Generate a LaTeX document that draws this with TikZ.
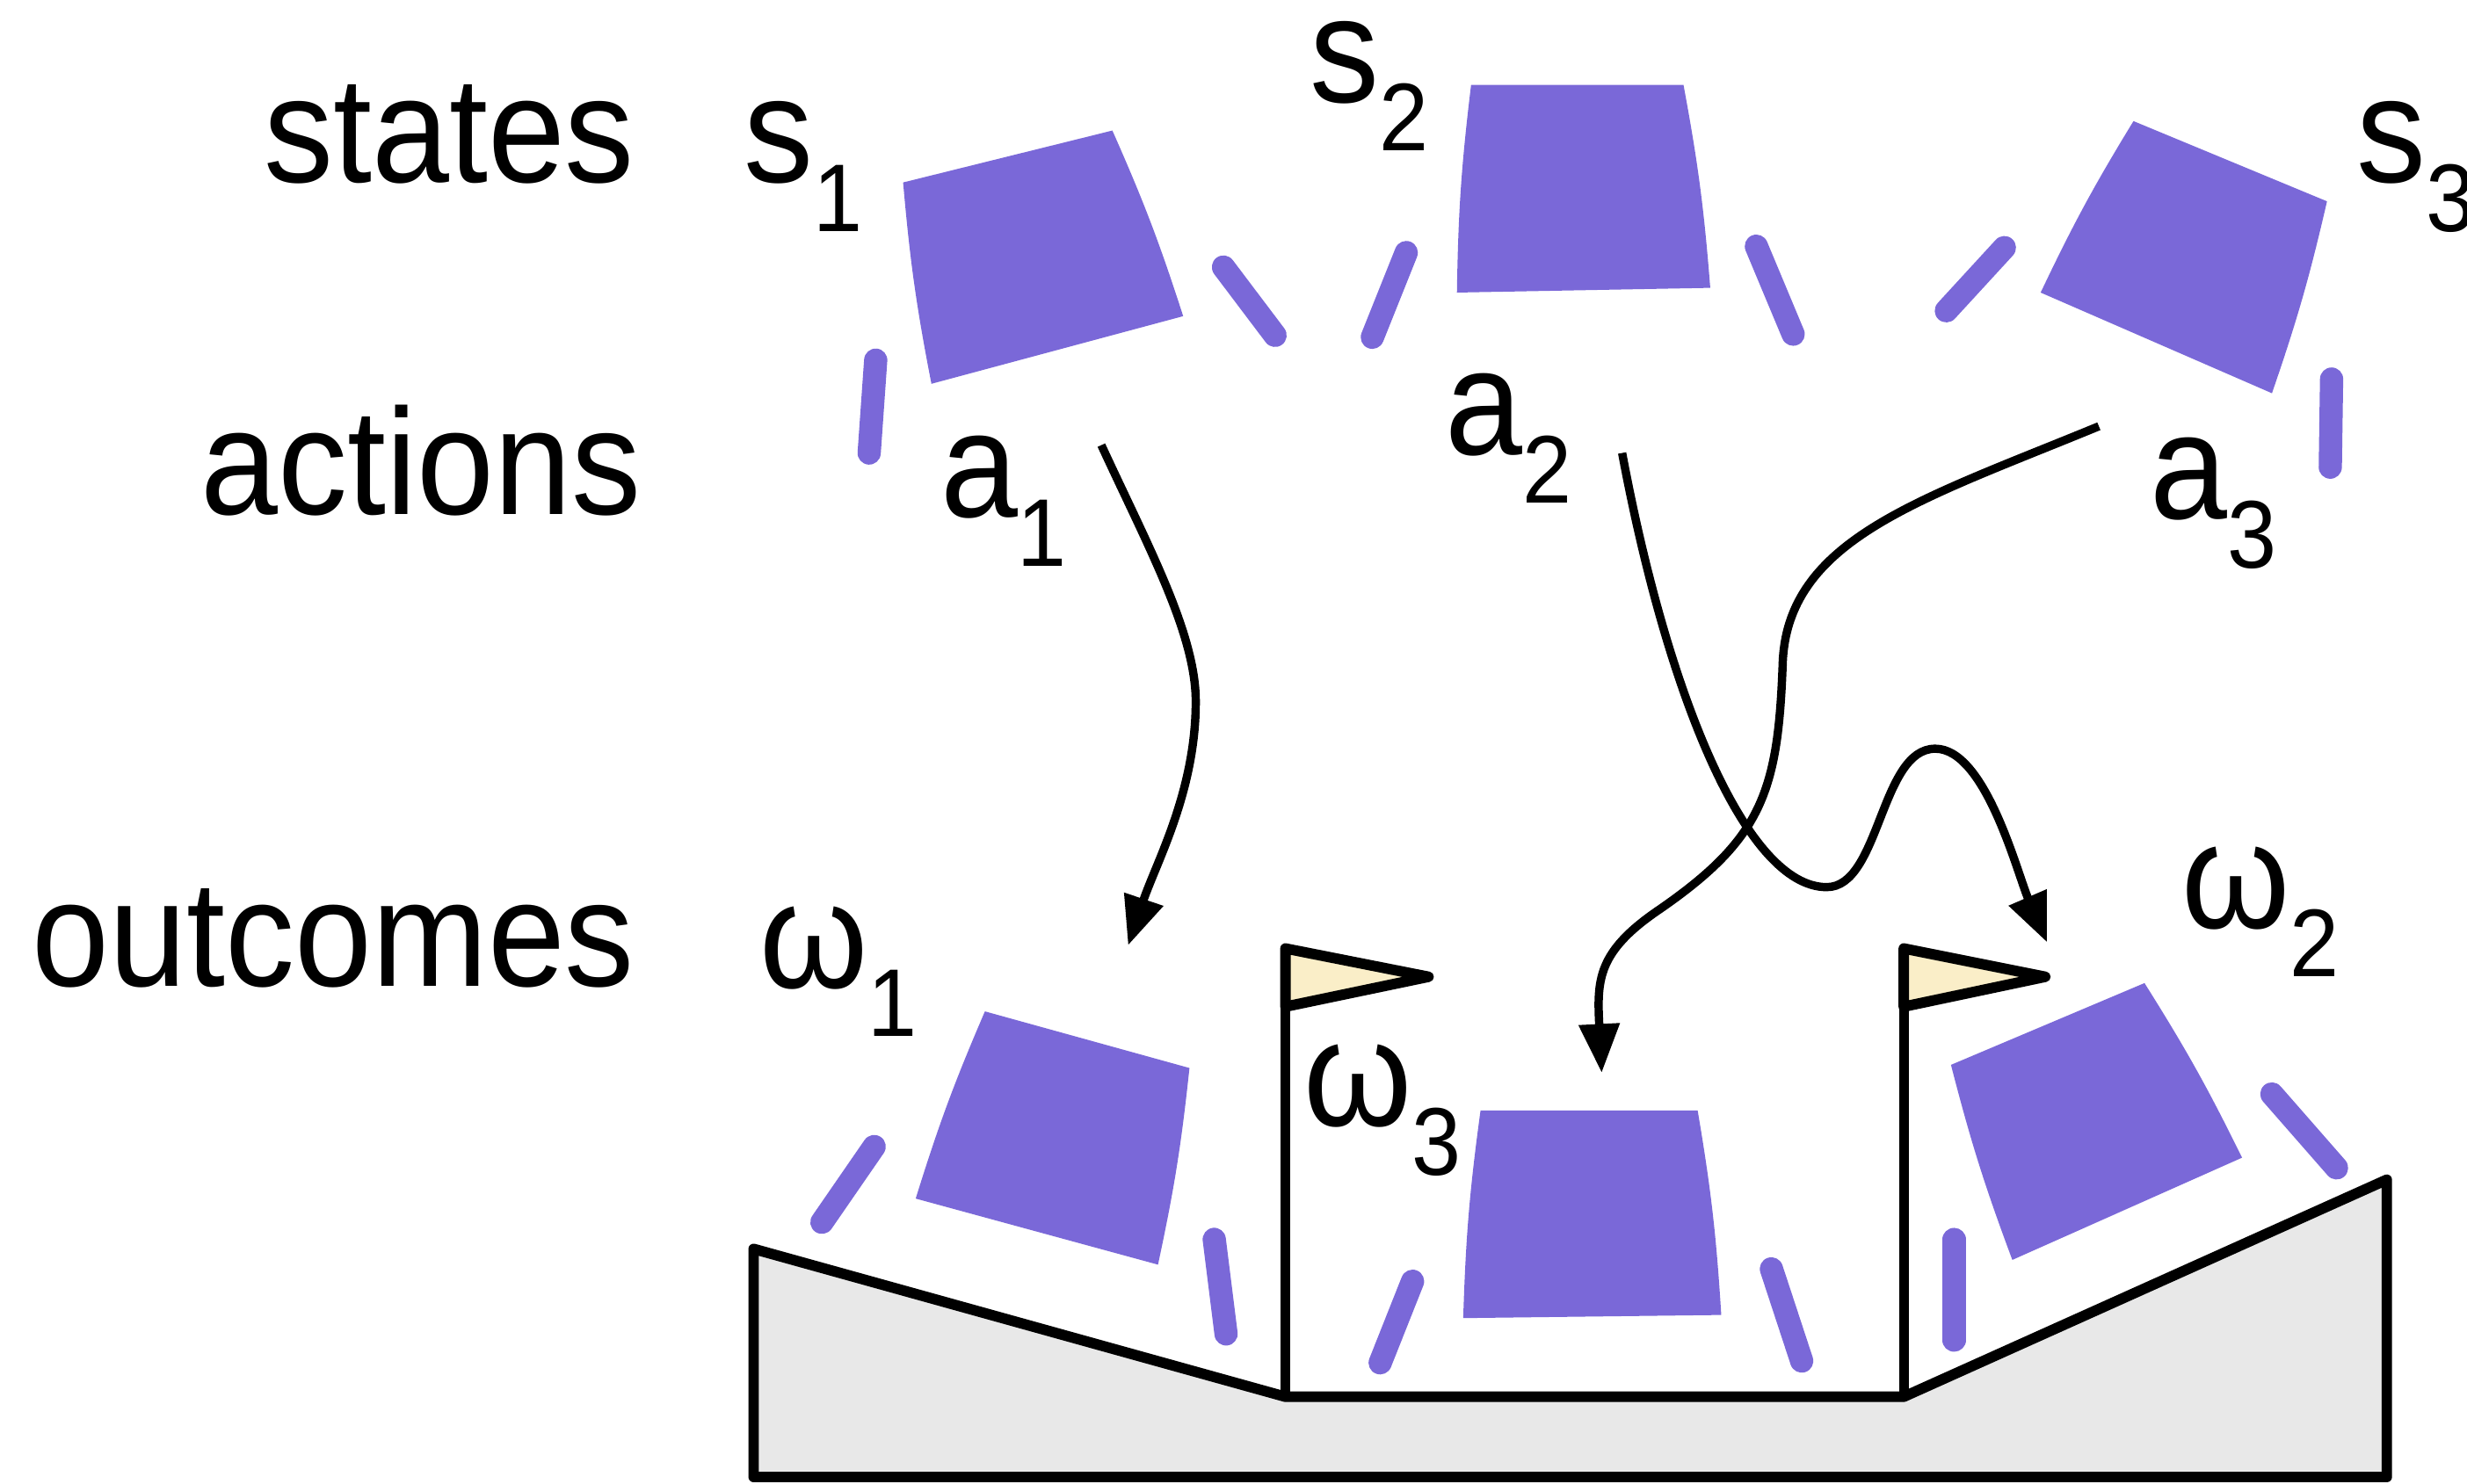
\documentclass[tikz,border=0pt]{standalone}
\usepackage{fontspec}
\setmainfont{Liberation Sans}[FakeStretch=0.92]
\usetikzlibrary{arrows.meta}
\definecolor{lander}{RGB}{122,104,216}
\definecolor{flagfill}{RGB}{250,238,200}
\definecolor{ground}{RGB}{232,232,232}
\newcommand{\lowsub}[1]{\raisebox{-0.31cm}{\fontsize{17.4}{18}\selectfont #1}}

\begin{document}
\begin{tikzpicture}[
  lbl/.style = {inner sep = 0pt, font = \fontsize{27.3}{30}\selectfont},
  body/.style = {fill = lander},
  leg/.style = {draw = lander, line width = 4.2pt, line cap = round, shorten < = 0.6mm, shorten > = 0.6mm},
  outline/.style = {line width = 1.9pt, line join = round},
  move/.style = {line width = 1.5pt, -{Triangle[length = 3.1mm, width = 2.5mm]}}
]
\useasboundingbox (0,0) rectangle (15.68,9.43);

% row names
\node[lbl, anchor = base east] (states) at (4.04,8.27) {states};
\node[lbl, anchor = base east] (actions) at (4.08,6.16) {actions};
\node[lbl, anchor = base east] (outcomes) at (4.04,3.16) {outcomes};

% labels
\node[lbl, anchor = base west] (s1) at (4.72,8.27) {s\lowsub{1}};
\node[lbl, anchor = base west, text height = 0.52cm] (s2) at (8.32,8.78) {s\lowsub{2}};
\node[lbl, anchor = base west] (s3) at (14.97,8.27) {s\lowsub{3}};
\node[lbl, anchor = base west] (a1) at (5.97,6.14) {a\lowsub{1}};
\node[lbl, anchor = base west] (a2) at (9.18,6.54) {a\lowsub{2}};
\node[lbl, anchor = base west] (a3) at (13.66,6.13) {a\lowsub{3}};
\node[lbl, anchor = base west] (w1) at (4.82,3.15) {ω\lowsub{1}};
\node[lbl, anchor = base west] (w2) at (13.86,3.53) {ω\lowsub{2}};
\node[lbl, anchor = base west] (w3) at (8.28,2.27) {ω\lowsub{3}};

% landers in the air
\fill[body] (5.74,8.27) -- (7.07,8.60) to[bend left = 3] (7.52,7.42) -- (5.92,6.99) to[bend left = 3] cycle;
\draw[leg] (5.57,7.20) -- (5.52,6.49);
\draw[leg] (7.74,7.78) -- (8.14,7.25);
\fill[body] (9.35,8.89) -- (10.70,8.89) to[bend left = 3] (10.87,7.60) -- (9.26,7.57) to[bend left = 3] cycle;
\draw[leg] (8.96,7.88) -- (8.70,7.23);
\draw[leg] (11.14,7.92) -- (11.42,7.25);
\fill[body] (13.56,8.66) -- (14.79,8.15) to[bend left = 3] (14.44,6.93) -- (12.97,7.57) to[bend left = 3] cycle;
\draw[leg] (12.78,7.90) -- (12.33,7.41);
\draw[leg] (14.82,7.08) -- (14.81,6.40);

% ground and flags
\filldraw[outline, fill = ground] (4.79,1.49) -- (8.17,0.55) -- (12.10,0.55) -- (15.17,1.93) -- (15.17,0.04) -- (4.79,0.04) -- cycle;
\draw[outline, line width = 1.7pt] (8.17,0.55) -- (8.17,3.40);
\filldraw[outline, fill = flagfill] (8.17,3.40) -- (9.08,3.22) -- (8.17,3.03) -- cycle;
\draw[outline, line width = 1.7pt] (12.10,0.55) -- (12.10,3.40);
\filldraw[outline, fill = flagfill] (12.10,3.40) -- (13.00,3.22) -- (12.10,3.03) -- cycle;

% landers after the move
\fill[body] (6.26,3.00) -- (7.56,2.64) to[bend left = 3] (7.36,1.39) -- (5.82,1.81) to[bend left = 3] cycle;
\draw[leg] (5.59,2.19) -- (5.19,1.61);
\draw[leg] (7.71,1.61) -- (7.80,0.89);
\fill[body] (9.41,2.37) -- (10.79,2.37) to[bend left = 3] (10.94,1.07) -- (9.30,1.05) to[bend left = 3] cycle;
\draw[leg] (9.00,1.34) -- (8.75,0.71);
\draw[leg] (11.24,1.42) -- (11.47,0.72);
\fill[body] (12.40,2.66) -- (13.63,3.18) to[bend left = 3] (14.25,2.07) -- (12.79,1.42) to[bend left = 3] cycle;
\draw[leg] (12.42,1.61) -- (12.42,0.85);
\draw[leg] (14.40,2.52) -- (14.89,1.96);

% transitions
\coordinate (a1from) at (7.00,6.60);
\coordinate (a1to) at (7.17,3.42);
\coordinate (a2from) at (10.31,6.55);
\coordinate (a2to) at (13.01,3.44);
\coordinate (a3from) at (13.34,6.72);
\coordinate (a3to) at (10.18,2.61);
\draw[move] (a1from) .. controls (7.30,5.95) and (7.60,5.40) .. (7.60,4.97)
  .. controls (7.60,4.40) and (7.35,3.95) .. (a1to);
\draw[move] (a2from) .. controls (10.60,5.00) and (11.10,3.79) .. (11.61,3.79)
  .. controls (11.95,3.79) and (11.95,4.67) .. (12.30,4.67)
  .. controls (12.62,4.67) and (12.82,3.88) .. (a2to);
\draw[move] (a3from) .. controls (12.20,6.25) and (11.35,6.00) .. (11.33,5.20)
  .. controls (11.30,4.40) and (11.20,4.10) .. (10.55,3.65)
  .. controls (10.15,3.38) and (10.15,3.20) .. (a3to);
\end{tikzpicture}
\end{document}
